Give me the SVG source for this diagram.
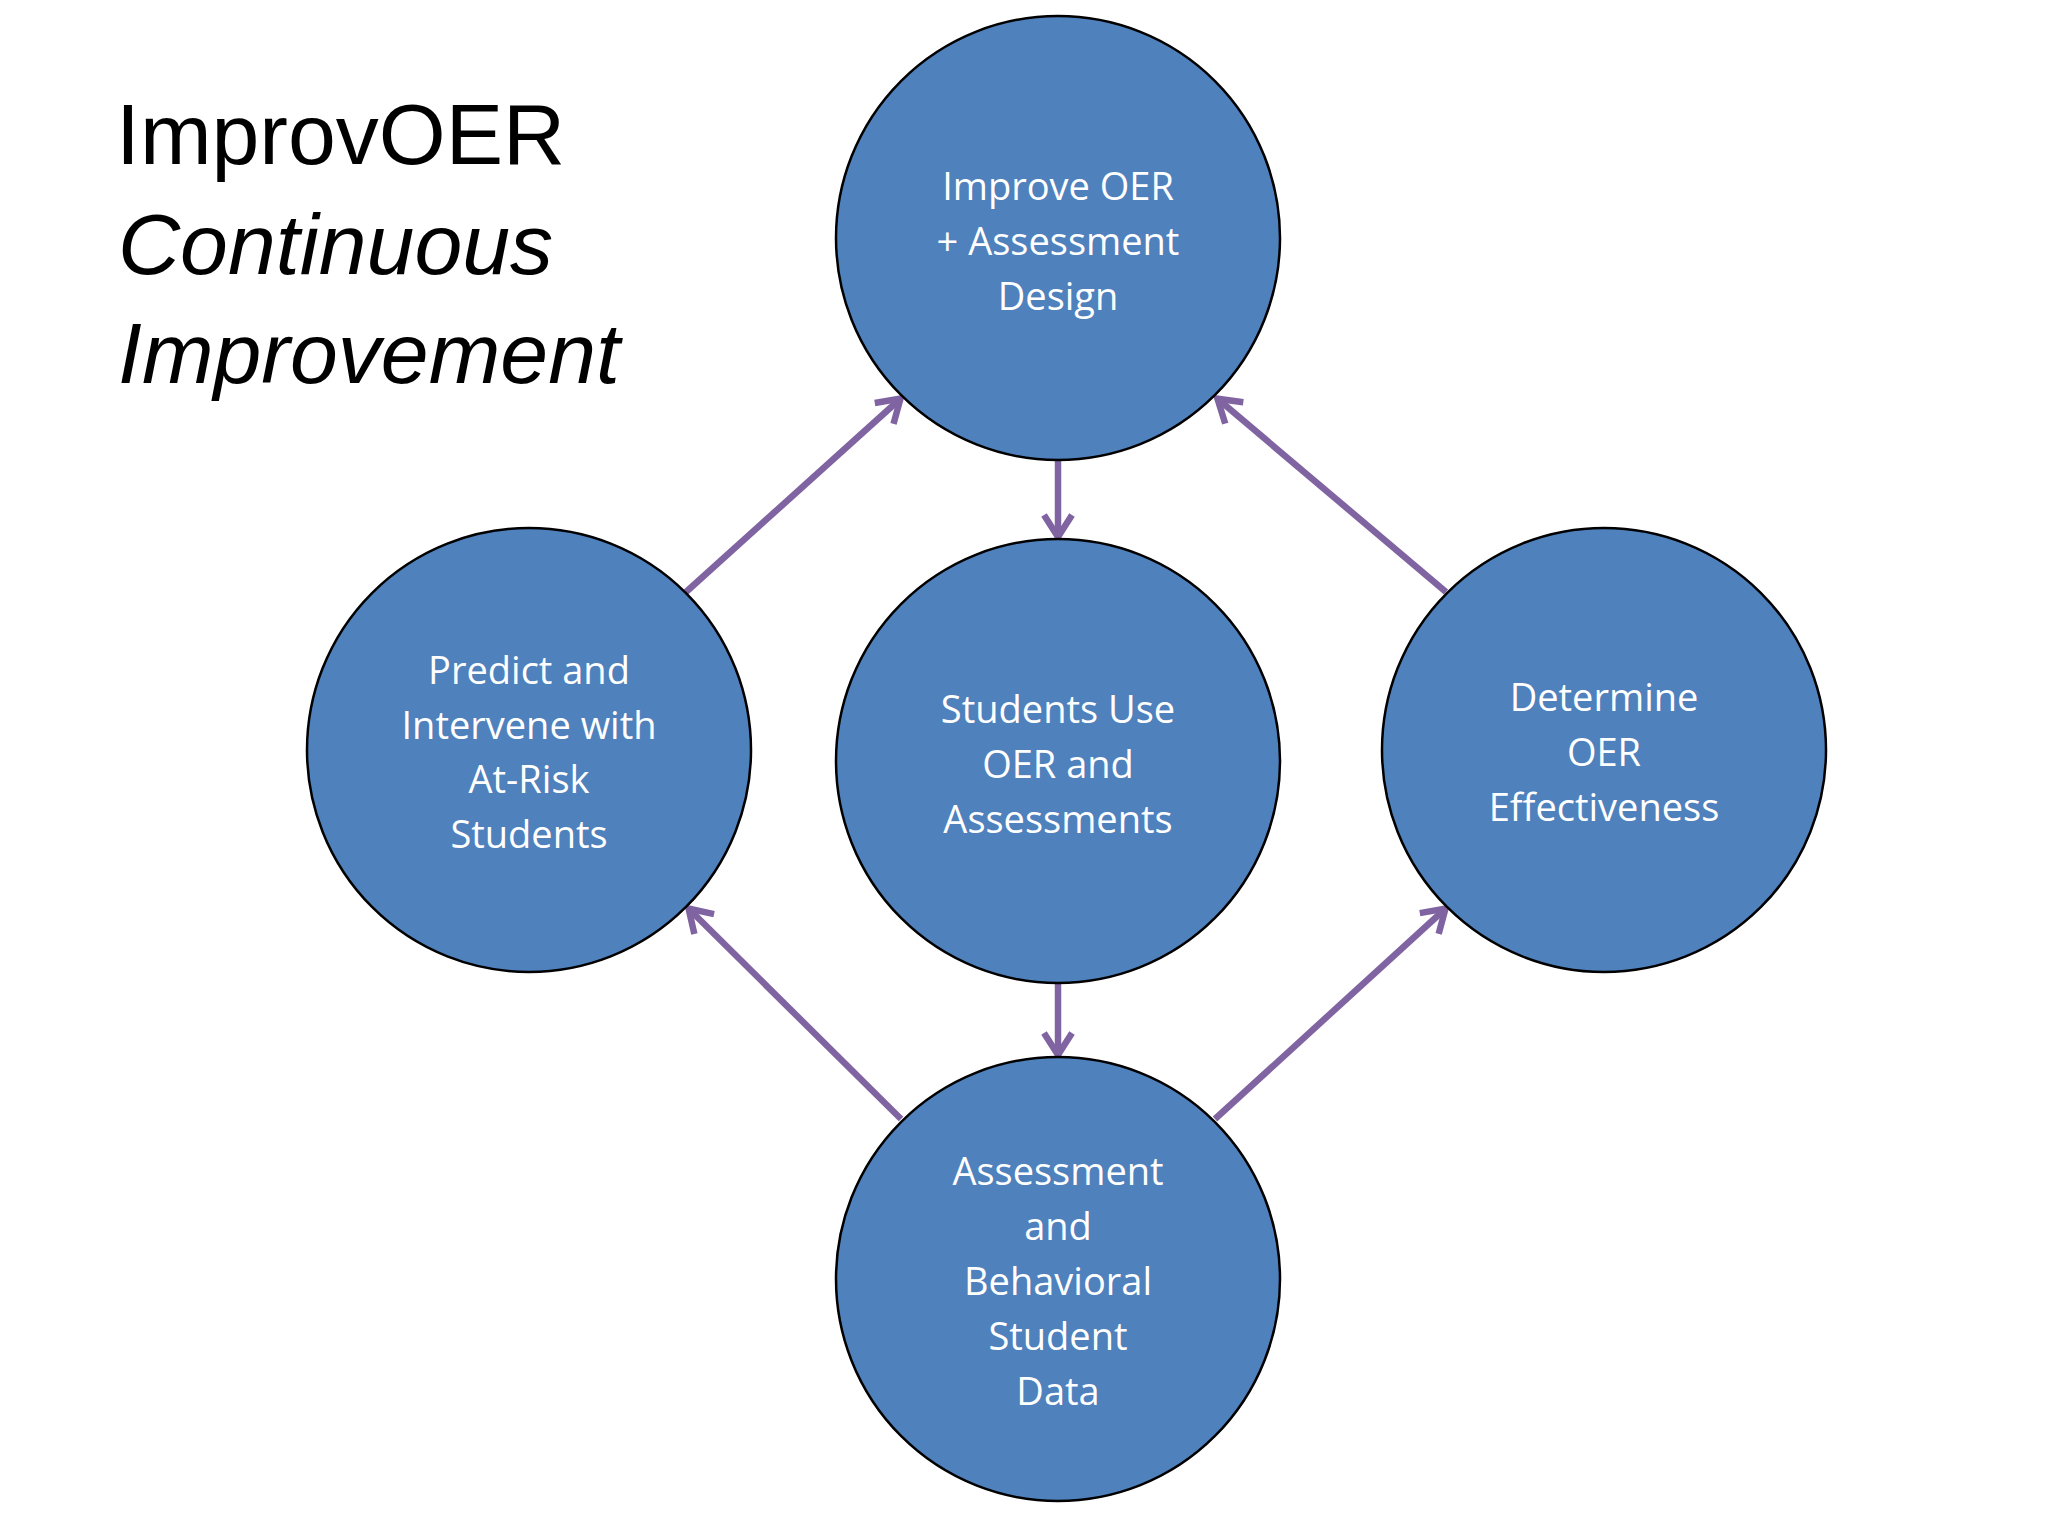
<svg xmlns="http://www.w3.org/2000/svg" width="2048" height="1536" viewBox="0 0 2048 1536">
<style>
.n{fill:#4F81BD;stroke:#000;stroke-width:2.5}
.t{font-family:"Open Sans","Noto Sans",sans-serif;font-size:38px;fill:#fff;text-anchor:middle;dominant-baseline:central}
.c{stroke:#8064A2;stroke-width:6.5;fill:none;marker-end:url(#a)}
.h{font-family:"Liberation Sans",Arial,sans-serif;font-size:86px;fill:#000}
</style>
<defs>
<marker id="a" markerUnits="userSpaceOnUse" markerWidth="40" markerHeight="40" refX="28" refY="20" orient="auto" viewBox="0 0 40 40">
<path d="M8 6 L30 20 L8 34" fill="none" stroke="#8064A2" stroke-width="6.5" stroke-linejoin="miter"/>
</marker>
</defs>
<rect width="2048" height="1536" fill="#fff"/>
<g id="title">
<text class="h" x="116" y="164">ImprovOER</text>
<text class="h" x="118" y="274" font-style="italic">Continuous</text>
<text class="h" x="118" y="383" font-style="italic">Improvement</text>
</g>
<g id="connectors">
<line class="c" x1="1058" y1="460" x2="1058" y2="535"/>
<line class="c" x1="1058" y1="982" x2="1058" y2="1053"/>
<line class="c" x1="686" y1="592" x2="899" y2="400"/>
<line class="c" x1="1446" y1="592" x2="1219" y2="400"/>
<line class="c" x1="901" y1="1119" x2="690" y2="910"/>
<line class="c" x1="1215" y1="1119" x2="1444" y2="910"/>
</g>
<g id="top"><circle class="n" cx="1058" cy="238" r="222"/>
<text class="t" x="1058" y="185">Improve OER</text><text class="t" x="1058" y="240">+ Assessment</text><text class="t" x="1058" y="295">Design</text></g>
<g id="middle"><circle class="n" cx="1058" cy="761" r="222"/>
<text class="t" x="1058" y="708">Students Use</text><text class="t" x="1058" y="763">OER and</text><text class="t" x="1058" y="818">Assessments</text></g>
<g id="left"><circle class="n" cx="529" cy="750" r="222"/>
<text class="t" x="529" y="669">Predict and</text><text class="t" x="529" y="724">Intervene with</text><text class="t" x="529" y="778">At-Risk</text><text class="t" x="529" y="833">Students</text></g>
<g id="right"><circle class="n" cx="1604" cy="750" r="222"/>
<text class="t" x="1604" y="696">Determine</text><text class="t" x="1604" y="751">OER</text><text class="t" x="1604" y="806">Effectiveness</text></g>
<g id="bottom"><circle class="n" cx="1058" cy="1279" r="222"/>
<text class="t" x="1058" y="1170">Assessment</text><text class="t" x="1058" y="1225">and</text><text class="t" x="1058" y="1280">Behavioral</text><text class="t" x="1058" y="1335">Student</text><text class="t" x="1058" y="1390">Data</text></g>
</svg>
